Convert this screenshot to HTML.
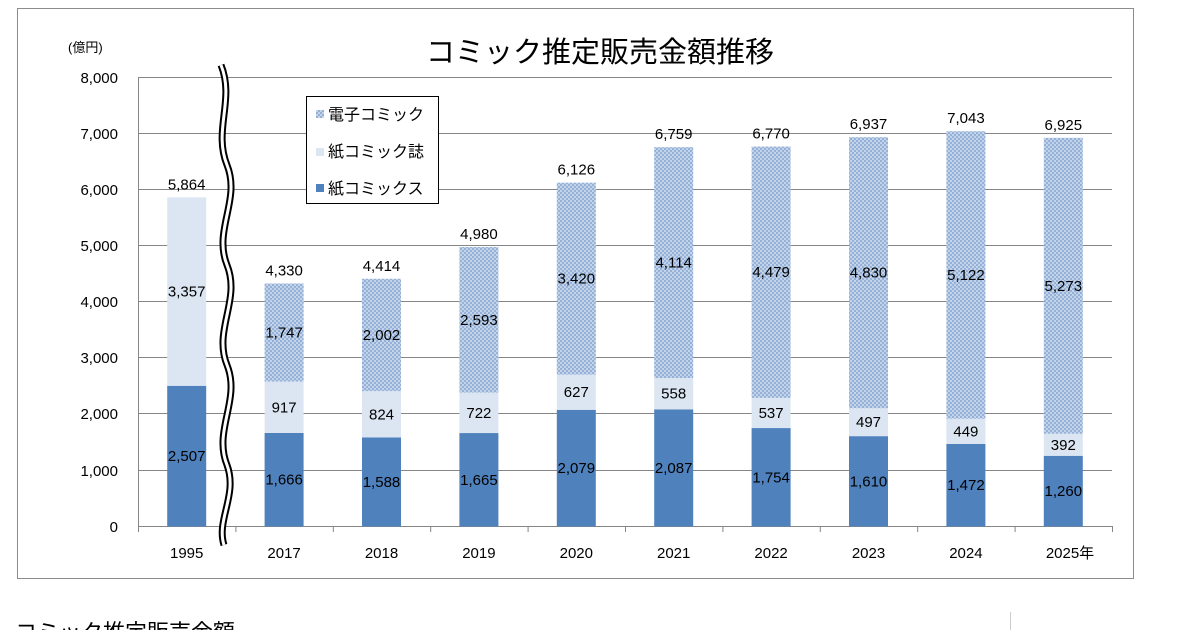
<!DOCTYPE html>
<html><head><meta charset="utf-8"><style>
body{margin:0;background:#fff;width:1200px;height:630px;overflow:hidden}
svg{display:block}
text{font-family:"Liberation Sans","Noto Sans CJK JP",sans-serif;fill:#000}
</style></head><body>
<svg width="1200" height="630" viewBox="0 0 1200 630">
<defs>
<pattern id="h" width="4" height="4" patternUnits="userSpaceOnUse">
<rect width="4" height="4" fill="#c3d4ea"/>
<rect width="2" height="2" fill="#95b1d8"/>
<rect x="2" y="2" width="2" height="2" fill="#95b1d8"/>
</pattern>
</defs>
<rect x="17.5" y="8.5" width="1116" height="570" fill="#fff" stroke="#8c8c8c"/>
<text x="600" y="62" font-size="29" text-anchor="middle">コミック推定販売金額推移</text>
<text x="68" y="52" font-size="13">(億円)</text>
<g stroke="#868686" stroke-width="1">
<line x1="138" y1="77.5" x2="1112" y2="77.5"/>
<line x1="138" y1="133.5" x2="1112" y2="133.5"/>
<line x1="138" y1="189.5" x2="1112" y2="189.5"/>
<line x1="138" y1="245.5" x2="1112" y2="245.5"/>
<line x1="138" y1="301.5" x2="1112" y2="301.5"/>
<line x1="138" y1="357.5" x2="1112" y2="357.5"/>
<line x1="138" y1="413.5" x2="1112" y2="413.5"/>
<line x1="138" y1="470.5" x2="1112" y2="470.5"/>
<line x1="138" y1="526.5" x2="1112" y2="526.5"/>
<line x1="138.5" y1="77" x2="138.5" y2="532"/>
</g>
<g font-size="15" text-anchor="end">
<text x="118" y="83">8,000</text><text x="118" y="139">7,000</text><text x="118" y="195">6,000</text>
<text x="118" y="251">5,000</text><text x="118" y="307">4,000</text><text x="118" y="363">3,000</text>
<text x="118" y="419">2,000</text><text x="118" y="476">1,000</text><text x="118" y="532">0</text>
</g>
<g id="bars"></g>
<g id="labels" font-size="15" text-anchor="middle"></g>
<path d="M221 65 C235 100,213 130,227 165 C241 200,213 230,227 265 C241 300,213 330,227 365 C241 400,213 430,227 465 C238 495,216 520,224 545" fill="none" stroke="#000" stroke-width="7"/>
<path d="M221 65 C235 100,213 130,227 165 C241 200,213 230,227 265 C241 300,213 330,227 365 C241 400,213 430,227 465 C238 495,216 520,224 545" fill="none" stroke="#fff" stroke-width="3"/>
<rect x="306.5" y="96.5" width="132" height="107" fill="#fff" stroke="#000"/>
<rect x="316" y="110" width="8" height="8" fill="url(#h)"/>
<rect x="316" y="148" width="8" height="8" fill="#dce6f2"/>
<rect x="316" y="184" width="8" height="8" fill="#4f81bd"/>
<g font-size="16"><text x="328" y="120">電子コミック</text><text x="328" y="157">紙コミック誌</text><text x="328" y="194">紙コミックス</text></g>
<text x="15" y="640" font-size="22">コミック推定販売金額</text>
<line x1="1010.5" y1="612" x2="1010.5" y2="630" stroke="#ccc"/>
</svg>
<script>
var d=[["1995",2507,3357,0,5864],["2017",1666,917,1747,4330],["2018",1588,824,2002,4414],["2019",1665,722,2593,4980],["2020",2079,627,3420,6126],["2021",2087,558,4114,6759],["2022",1754,537,4479,6770],["2023",1610,497,4830,6937],["2024",1472,449,5122,7043],["2025",1260,392,5273,6925]];
var ns="http://www.w3.org/2000/svg",B=document.getElementById("bars"),L=document.getElementById("labels");
function y(v){return 526.5-v*0.056125}
function r(x,a,b,f){var e=document.createElementNS(ns,"rect");e.setAttribute("x",x);e.setAttribute("y",y(b));e.setAttribute("width",39);e.setAttribute("height",y(a)-y(b));e.setAttribute("fill",f);B.appendChild(e)}
function t(x,yy,s,sz){var e=document.createElementNS(ns,"text");e.setAttribute("x",x);e.setAttribute("y",yy);e.textContent=s;if(sz)e.setAttribute("font-size",sz);L.appendChild(e);return e}
function f(n){return n.toLocaleString("en-US")}
d.forEach(function(v,i){var c=138+97.4*(i+0.5),x=c-19.5,a=v[1],b=a+v[2],cc=b+v[3];
r(x,0,a,"#4f81bd");r(x,a,b,"#dce6f2");if(v[3])r(x,b,cc,"url(#h)");
t(c,(y(0)+y(a))/2+5,f(a));t(c,(y(a)+y(b))/2+5,f(v[2]));if(v[3])t(c,(y(b)+y(cc))/2+5,f(v[3]));
t(c,y(v[4])-8,f(v[4]));
if(i<9)t(c,558,v[0]);
var tk=document.createElementNS(ns,"line");tk.setAttribute("x1",138+97.4*(i+1)+.5);tk.setAttribute("x2",138+97.4*(i+1)+.5);tk.setAttribute("y1",526);tk.setAttribute("y2",532);tk.setAttribute("stroke","#868686");B.appendChild(tk);});
t(1070,558,"2025年");
</script>
</body></html>
